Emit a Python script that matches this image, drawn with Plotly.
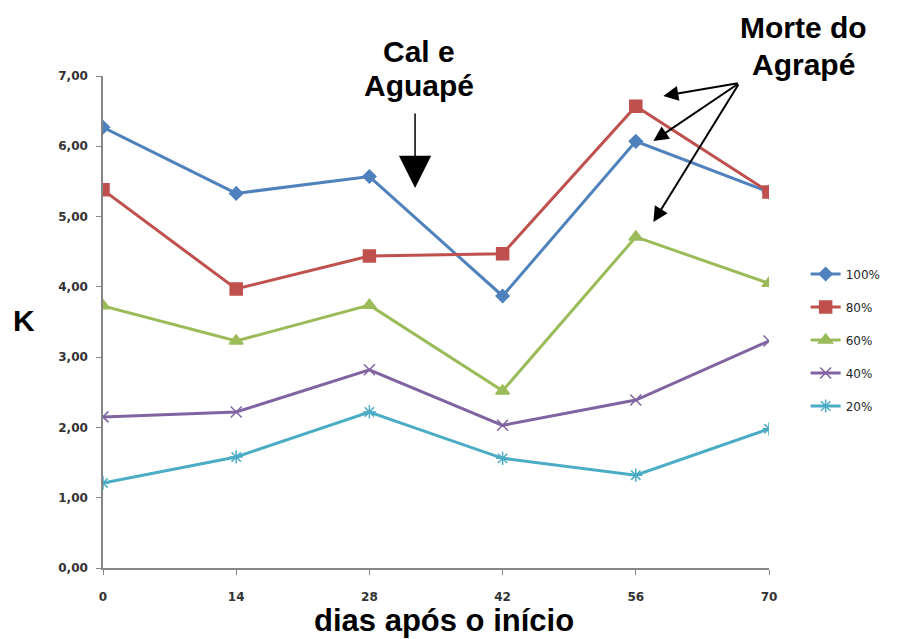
import plotly.graph_objects as go

days = [0, 14, 28, 42, 56, 70]
tick_labels = ["0", "14", "28", "42", "56", "70"]
series_names = ["100%", "80%", "60%", "40%", "20%"]
k_100 = [6.27, 5.33, 5.57, 3.87, 6.07, 5.35]
k_80 = [5.38, 3.97, 4.44, 4.47, 6.57, 5.35]
k_60 = [3.73, 3.23, 3.74, 2.52, 4.71, 4.05]
k_40 = [2.15, 2.22, 2.82, 2.03, 2.39, 3.23]
k_20 = [1.21, 1.58, 2.22, 1.56, 1.32, 1.98]
values = [k_100, k_80, k_60, k_40, k_20]

colors = ["#4F81BD", "#C0504D", "#9BBB59", "#8064A2", "#4BACC6"]
symbols = ["diamond", "square", "triangle-up", "x-thin", "asterisk"]
sizes = [10, 12, 12, 11, 11]

fig = go.Figure()
for i, (name, vals) in enumerate(zip(series_names, values)):
    fig.add_trace(go.Scatter(
        x=days, y=vals, name=name, mode="lines+markers",
        legendgroup=name,
        line=dict(color=colors[i], width=3),
        marker=dict(symbol=symbols[i], size=sizes[i], color=colors[i],
                    line=dict(color=colors[i], width=1.5)),
    ))

tickfont = dict(family="DejaVu Sans", size=12, color="#333333", weight="bold")
fig.update_layout(
    width=898, height=639,
    margin=dict(l=103, r=127, t=76, b=71),
    plot_bgcolor="white", paper_bgcolor="white",
    separators=",.",
    showlegend=True,
    legend=dict(x=1.055, y=0.627, xanchor="left", yanchor="top",
                font=dict(family="DejaVu Sans", size=12, color="#262626"),
                tracegroupgap=14, bgcolor="rgba(0,0,0,0)"),
    xaxis=dict(range=[0, 70], tickvals=days, ticktext=tick_labels,
               showgrid=False, zeroline=False, showline=True,
               linecolor="#868686", linewidth=1.5, ticks="outside",
               tickcolor="#868686", ticklen=5, tickfont=tickfont,
               ticklabelstandoff=12),
    yaxis=dict(range=[0, 7], dtick=1, tickformat=".2f",
               showgrid=False, zeroline=False, showline=True,
               linecolor="#868686", linewidth=1.5, ticks="outside",
               tickcolor="#868686", ticklen=5, tickfont=tickfont,
               ticklabelstandoff=6),
)

big = dict(family="Liberation Sans", size=30, color="black", weight="bold")

def px_x(p):
    return (p - 103) / 668.0

def px_y(p):
    return (568 - p) / 492.0

anns = [
    dict(text="K", x=24, y=320, size=30),
    dict(text="dias após o início", x=445, y=620, size=31),
    dict(text="Cal e", x=420, y=52, size=30),
    dict(text="Aguapé", x=420, y=85, size=30),
    dict(text="Morte do", x=806, y=28, size=30),
    dict(text="Agrapé", x=806, y=65, size=30),
]
for a in anns:
    f = dict(big)
    f["size"] = a["size"]
    fig.add_annotation(text=a["text"], xref="paper", yref="paper",
                       x=px_x(a["x"]), y=px_y(a["y"]), xanchor="center", yanchor="middle",
                       showarrow=False, font=f)

# Cal e Aguapé arrow
fig.add_annotation(text="", xref="paper", yref="paper", x=px_x(416), y=px_y(188),
                   ax=0, ay=-76, showarrow=True, arrowhead=2, arrowsize=4.3,
                   arrowwidth=1.5, arrowcolor="black")
# Morte do Agrapé arrows
for hx, hy in [(665, 96), (655, 141), (655, 222)]:
    fig.add_annotation(text="", xref="paper", yref="paper", x=px_x(hx), y=px_y(hy),
                       ax=741 - hx, ay=83 - hy, showarrow=True, arrowhead=2,
                       arrowsize=1.5, arrowwidth=2, arrowcolor="black")

fig.write_html("out.html", config={"displayModeBar": False},
               post_script="document.body.style.margin='0px';")
